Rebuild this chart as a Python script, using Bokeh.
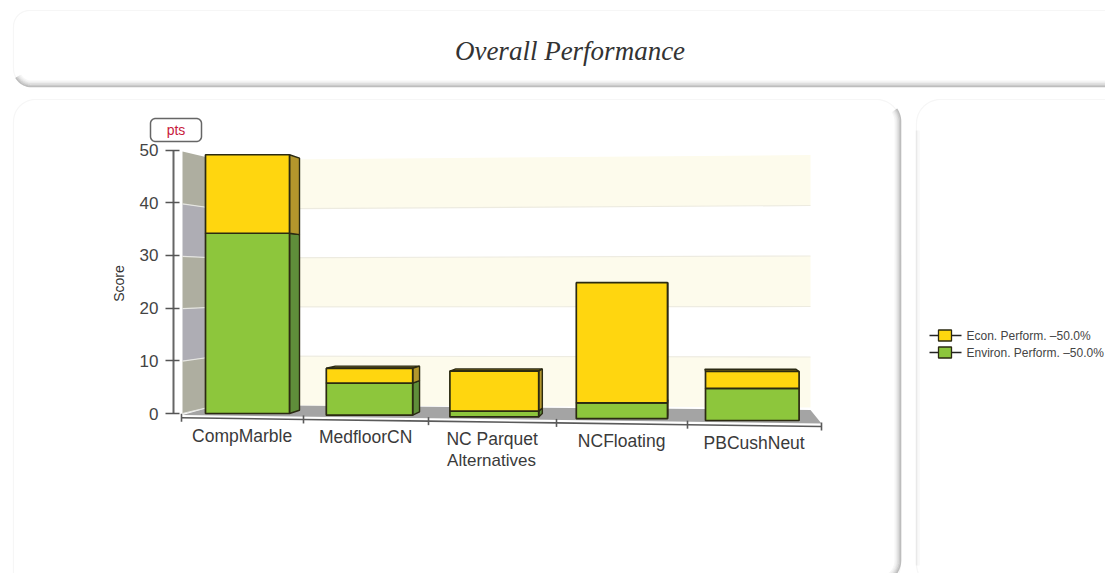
import math
from bokeh.core.properties import value
from bokeh.embed import file_html
from bokeh.models import ColumnDataSource, FixedTicker, Range1d
from bokeh.plotting import figure
from bokeh.resources import INLINE

# ---- data ----
categories = ["CompMarble", "MedfloorCN", "NC Parquet", "NCFloating", "PBCushNeut"]
environ_scores = [34.2, 6.1, 1.1, 3.0, 6.1]
econ_scores = [14.9, 2.8, 7.6, 22.8, 3.2]
y_ticks = [0, 10, 20, 30, 40, 50]
title_text = "Overall Performance"
x_title = "Alternatives"
y_title = "Score"
unit_text = "pts"
legend_labels = ["Econ. Perform. \u201350.0%", "Environ. Perform. \u201350.0%"]

# ---- layout (reference pixels) ----
W, H = 1105, 573
PAGE = 0
Y0_PX, PX_PER_UNIT = 413.0, 5.27
VANISH = (680.0, 285.0)
DEPTH = 0.0256
TILT = 0.01386

YELLOW, YELLOW_SIDE, YELLOW_TOP = "#FFD60F", "#B3962C", "#7A6418"
GREEN, GREEN_SIDE, GREEN_TOP = "#8DC63C", "#5F8E3A", "#4D6E2A"
EDGE = "#2B2A12"
SANS = "Liberation Sans"


def Y(py):
    return (Y0_PX - py) / PX_PER_UNIT


def cx(i):
    return 247 + 120.6 * i + 1.4 * i * i


def half(i):
    return 42 + 1.2 * i


def tick_x(k):
    return 181 + 120.5 * k + 1.5 * k * k


def rounded(x0, y0, x1, y1, r_tl, r_tr, r_br, r_bl):
    xs, ys = [], []
    corners = [
        (x0 + r_tl, y0 + r_tl, r_tl, 180),
        (x1 - r_tr, y0 + r_tr, r_tr, 270),
        (x1 - r_br, y1 - r_br, r_br, 0),
        (x0 + r_bl, y1 - r_bl, r_bl, 90),
    ]
    for ccx, ccy, r, a0 in corners:
        for s in range(13):
            a = math.radians(a0 + s * 7.5)
            xs.append(ccx + r * math.cos(a))
            ys.append(ccy + r * math.sin(a))
    return xs, ys


p = figure(
    width=W, height=H, output_backend="svg", toolbar_location=None,
    x_range=Range1d(PAGE, PAGE + W), y_range=Range1d(Y(PAGE + H), Y(PAGE)),
    min_border=0, x_axis_location=None, outline_line_color=None,
    background_fill_color="white", border_fill_color="white",
)
p.grid.visible = False

# ---- panels with soft shadow ----
panels = [
    (13, 10, 1135, 86, 16, 16, 18, 18),
    (13, 99, 900, 586, 22, 24, 22, 10),
    (916, 99, 1140, 586, 24, 24, 10, 22),
]
for x0, y0, x1, y1, a, b, c, d in panels:
    xs, ys = rounded(x0, y0, x1, y1, a, b, c, d)
    p.patch(xs, [Y(v) for v in ys], fill_color="white", line_color="#F6F6F6", line_width=1.2)

shadow = ["#BDBDBD", "#CFCFCF", "#E0E0E0", "#EDEDED", "#F6F6F6"]
for n, col in reversed(list(enumerate(shadow))):
    ins = n * 1.3
    # top panel lower edge
    r = 18
    xs = [31 - (r - ins) * math.cos(math.radians(t)) for t in range(30, 91, 6)] + [1135]
    ys = [68 + (r - ins) * math.sin(math.radians(t)) for t in range(30, 91, 6)] + [86 - ins]
    p.line(xs, [Y(v) for v in ys], line_color=col, line_width=1.6)
    # main panel right edge
    r = 22
    xs = [878 + (r - ins) * math.cos(math.radians(t)) for t in range(-35, 1, 5)]
    ys = [121 + (r - ins) * math.sin(math.radians(t)) for t in range(-35, 1, 5)]
    xs += [878 + (r - ins) * math.cos(math.radians(t)) for t in range(0, 91, 8)]
    ys += [560 + (r - ins) * math.sin(math.radians(t)) for t in range(0, 91, 8)]
    p.line(xs, [Y(v) for v in ys], line_color=col, line_width=1.6)
# side panel soft left edge
for n, col in enumerate(["#E9E9E9", "#F3F3F3", "#F9F9F9"]):
    p.line([916 + n * 1.3] * 2, [Y(130), Y(565)], line_color=col, line_width=1.4)


# ---- 3D back wall ----
def back_y(level, x):
    t = (x - 218) / (810 - 218)
    left = 404.5 - 4.9 * level
    right = 407 - 5.05 * level
    return Y(left + (right - left) * t)


levels = y_ticks
for j in range(5):
    v0, v1 = levels[j], levels[j + 1]
    col = "#FDFBEC" if j % 2 == 0 else "#FFFFFF"
    p.patch([218, 810, 810, 218],
            [back_y(v0, 218), back_y(v0, 810), back_y(v1, 810), back_y(v1, 218)],
            fill_color=col, line_color=None)
for v in levels[1:-1]:
    p.line([218, 810], [back_y(v, 218), back_y(v, 810)], line_color="#EDEBE0", line_width=1.2)


def wall_front_y(level):
    return Y(413 - 5.24 * level)


for j in range(5):
    v0, v1 = levels[j], levels[j + 1]
    col = "#AEAEA0" if j % 2 == 0 else "#AEADB4"
    p.patch([182, 218, 218, 182],
            [wall_front_y(v0), back_y(v0, 218), back_y(v1, 218), wall_front_y(v1)],
            fill_color=col, line_color=None)
for v in levels[1:-1] + [0]:
    p.line([182, 218], [wall_front_y(v), back_y(v, 218)], line_color="#E6E6E2", line_width=1.2)

# floor
p.patch([182, 218, 810, 821, 182],
        [Y(414.5), Y(404.5), Y(409.5), Y(423), Y(414.5)],
        fill_color="#A4A4A4", line_color=None)

# x axis (tilted with the 3D floor)
tick_xs = [tick_x(k) for k in range(6)]
axis_y = lambda x: Y(417.3 + (x - 181) * 0.0136)
p.line(tick_xs, [axis_y(x) for x in tick_xs], line_color="#5A5A5A", line_width=1.6)
p.segment(tick_xs, [axis_y(x) + 4 / PX_PER_UNIT for x in tick_xs],
          tick_xs, [axis_y(x) - 4 / PX_PER_UNIT for x in tick_xs],
          line_color="#5A5A5A", line_width=1.6)


# ---- stacked 3D bars ----
def drop(x):
    return (x - 247) * TILT / PX_PER_UNIT


def back(x, y):
    return x + DEPTH * (VANISH[0] - x), y + DEPTH * (Y(VANISH[1]) - y)


side_xs, side_ys, side_cols = [], [], []
top_xs, top_ys, top_cols = [], [], []
front = dict(left=[], right=[], bottom=[], top=[], color=[])
for i, name in enumerate(categories):
    c, hw = cx(i), half(i)
    l, r = c - hw, c + hw
    base = -drop(c)
    stack = [(environ_scores[i], GREEN, GREEN_SIDE), (econ_scores[i], YELLOW, YELLOW_SIDE)]
    b0 = base
    for val, col, scol in stack:
        t0 = b0 + val
        bx, by0 = back(r, b0)
        _, by1 = back(r, t0)
        if bx > r + 0.2:
            side_xs.append([r, bx, bx, r])
            side_ys.append([b0, by0, by1, t0])
            side_cols.append(scol)
        front["left"].append(l)
        front["right"].append(r)
        front["bottom"].append(b0)
        front["top"].append(t0)
        front["color"].append(col)
        b0 = t0
    blx, bly = back(l, b0)
    brx, bry = back(r, b0)
    if bly > b0 + 0.05:
        top_xs.append([l, r, brx, blx])
        top_ys.append([b0, b0, bry, bly])
        top_cols.append(YELLOW_TOP)

p.patches(top_xs, top_ys, fill_color=top_cols, line_color=EDGE, line_width=1.4)
p.patches(side_xs, side_ys, fill_color=side_cols, line_color=EDGE, line_width=1.4)
p.quad(left="left", right="right", bottom="bottom", top="top", fill_color="color",
       line_color=EDGE, line_width=1.7, source=ColumnDataSource(front))

# ---- y axis ----
ax = p.yaxis[0]
ax.fixed_location = 173
ax.bounds = (0, 50)
ax.ticker = FixedTicker(ticks=y_ticks)
ax.minor_tick_line_color = None
ax.axis_line_color = "#666666"
ax.axis_line_width = 2
ax.major_tick_line_color = "#555555"
ax.major_tick_line_width = 1.6
ax.major_tick_in = 6
ax.major_tick_out = 8
ax.major_label_standoff = 7
ax.major_label_text_font = SANS
ax.major_label_text_font_size = "17px"
ax.major_label_text_color = "#444444"

# ---- texts ----
tx = [tick_x(i + 0.5) for i in range(5)]
label_py = [435, 436, 438, 440, 442]
p.text(tx, [Y(v) for v in label_py], text=categories, text_align="center", text_baseline="middle",
       text_font=value(SANS), text_font_size="17.5px", text_color="#3A3A3A")
p.text([491], [Y(460)], text=[x_title], text_align="center", text_baseline="middle",
       text_font=value(SANS), text_font_size="17px", text_color="#3A3A3A")
p.text([118], [Y(283)], text=[y_title], angle=math.pi / 2, text_align="center", text_baseline="middle",
       text_font=value(SANS), text_font_size="14px", text_color="#333333")
p.text([569.5], [Y(50)], text=[title_text], text_align="center", text_baseline="middle",
       text_font=value("Liberation Serif"), text_font_style="italic", text_font_size="27px",
       text_color="#333333")

# unit badge
bx, by = rounded(150, 118, 201, 141, 5, 5, 5, 5)
p.patch(bx, [Y(v) for v in by], fill_color="white", line_color="#666666", line_width=1.5)
p.text([175.5], [Y(129)], text=[unit_text], text_align="center", text_baseline="middle",
       text_font=value(SANS), text_font_size="14px", text_color="#C8203C")

# legend
leg_y = [Y(335), Y(352)]
leg_cols = [YELLOW, GREEN]
p.segment([929, 929], leg_y, [961, 961], leg_y, line_color="#222222", line_width=1.4)
p.quad(left=[938, 938], right=[951, 951],
       bottom=[v - 5.5 / PX_PER_UNIT for v in leg_y], top=[v + 5.5 / PX_PER_UNIT for v in leg_y],
       fill_color=leg_cols, line_color="#2B2A12", line_width=1.3)
p.text([966, 966], leg_y, text=legend_labels, text_align="left", text_baseline="middle",
       text_font=value(SANS), text_font_size="12px", text_color="#444444")

open("out.html", "w").write(file_html(p, INLINE))
